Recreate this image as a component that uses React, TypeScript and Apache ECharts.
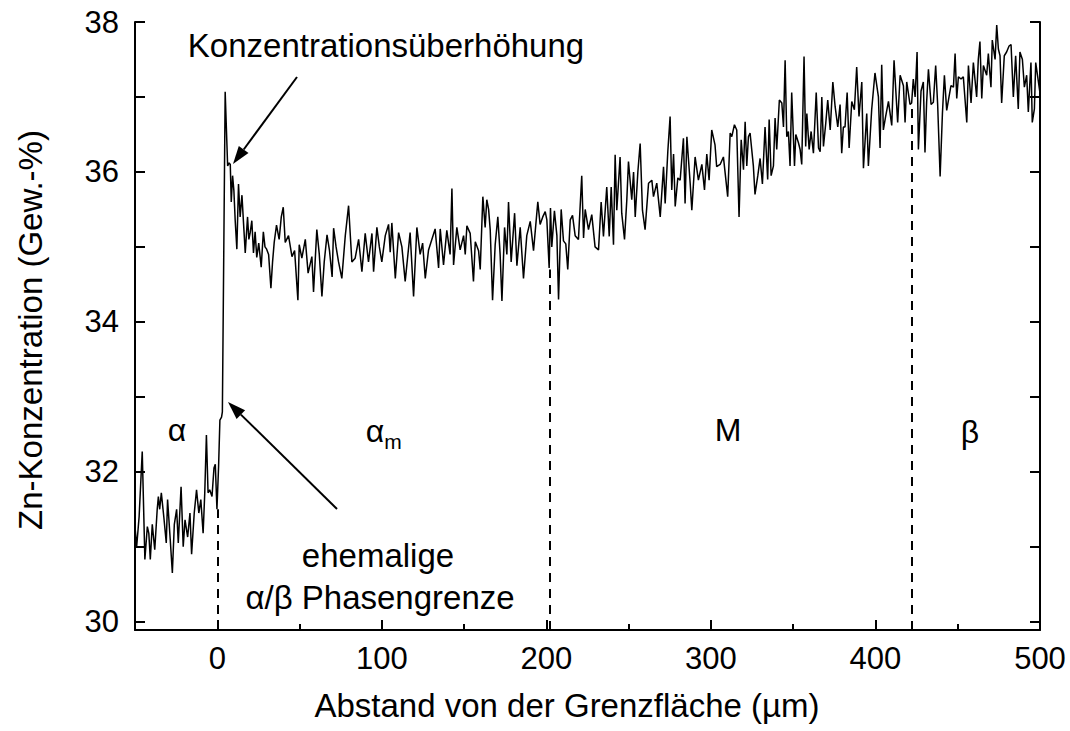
import React, { useEffect, useRef } from "react";
import * as echarts from "echarts";

// Distance from the interface (µm) and Zn concentration (wt.-%)
const distance = [
  -50, -49, -47.5, -45.6, -44, -42.5, -41.6, -40.7, -39.5, -38, -36.5, -35.8, -35, -34, -32.5, -31, -30.2, -28.6, -27.3, -26.1,
  -24.7, -23.7, -22, -20.7, -19.6, -18, -16.6, -15.6, -14, -12.6, -11.2, -10, -8.6, -7.6, -6.6, -5.6, -4.6, -3.2, -2, -1.2,
  -0.2, 0.8, 1.6, 2.6, 3.1, 4.8,
  6.3, 7.2, 7.9, 8.5, 9.3, 10.1, 10.9, 11.9, 12.9, 13.9, 15, 16, 17, 18.4, 19.2, 20, 21, 22, 23, 24,
  25.2, 26.7, 28, 29, 30, 31.2, 32.6, 33.6, 34.6, 36, 37.6, 38.9, 40.1,
  41.3, 43.3, 45.4, 47, 49, 49.8, 51.4, 53.5, 55.2, 57.5, 58.5, 60.5, 62, 63.6, 65, 66.7, 68.2, 69.8, 70.7, 72.2,
  73.7, 75.7, 77.8, 79.8, 81.8, 83.8, 85.9, 87.9, 89.9, 91.9, 94, 95, 97, 98.5, 100, 102.1, 104.1, 105.1, 106.1, 108.2,
  110.2, 112.2, 114.2, 117.2, 119.3, 121.3, 123.3, 124.8, 126.4, 128.4, 130.4,
  132.4, 134.5, 135.5, 137.5, 139.5, 141.5, 142.6, 143.6, 145.6, 147.6, 149.7, 150.7, 151.7, 153.7, 155.7, 156.8, 158.8, 159.8, 161.4, 162.8,
  163.8, 164.9, 165.9, 167.3, 168.9, 170.5, 171.9, 173, 174.6, 176, 177, 178.6, 180.7, 182.1, 184.1, 186.1, 188.1, 190.2, 192.2, 194.8,
  196.2, 197.8, 199.3, 200.3, 201.7, 202.5, 203.3, 204.9, 206.4, 207.4, 209, 210.4, 211.8, 213, 214.5, 215.9, 217.5, 219.5, 221.5, 222.6,
  223.6, 225.6, 227.6, 229.6, 231.7, 233.3, 234.7, 236.7, 238.2, 239.4, 240.8, 241.8, 242.8, 244.8, 245.8, 247.5, 248.9, 249.9, 251.9, 253,
  254, 255.6, 257, 258.4, 260, 262.1, 264.1, 265.1, 267.1, 269.2, 271.2, 272.2, 273.8, 275.2, 276.2, 277.3, 278.3, 279.9, 281.3, 283.3,
  284.3, 285.4, 287.4, 288.4, 290.4, 292.4, 294.5, 296.1, 297.5, 298.9, 300.5, 302.5, 303.5, 305.6, 307.6, 310.2, 311.7, 312.7, 314.3, 315.7,
  317.1, 318.4, 319.8, 320.8, 321.8, 322.8, 323.8, 325.8, 326.8, 328.5, 329.9, 331.3, 332.9, 334.5, 335.4, 336.6, 338, 339, 340, 341.6,
  343.1, 344.1, 345.1, 346.1, 347.1, 348.1, 349.1, 350.8, 351.6, 353.2, 354.2, 355.2, 356.6, 357.6, 358.3, 359.7, 360.9, 362.3, 364, 365.4,
  366.4, 367.4, 368.4, 369.8, 371, 372.5, 374.1, 375.5, 377.1, 378.5, 379.5, 380.5, 381.5, 382.8, 384, 385.6, 387.2, 388.6, 390, 391.7,
  392.7, 394.7, 395.7, 397.7, 399.7, 401.8, 402.8, 403.8, 404.8, 406.2, 407.9, 409.9, 411.3, 413.5, 415, 417, 418, 419, 421, 422,
  423, 424.1, 425.3, 426.1, 427.7, 429.1, 430.1, 431.1, 432.2, 433.8, 435.2, 436.6, 437.8, 439.3, 440.7, 441.9, 443.3, 444.7, 445.9, 447.4,
  448.4, 449.4, 450.4, 452, 453.4, 455.5, 456.5, 458.1, 459.5, 461.5, 462.5, 463.5, 464.6, 465.6, 467.6, 468.6, 470.2, 471, 472.7, 473.7,
  474.7, 475.7, 476.7, 478.3, 479.7, 481.2, 482.4, 483.8, 485.2, 486.8, 487.8, 489.3, 490.5, 491.9, 492.9, 494.5, 495.3, 496.6, 497.4, 498.6,
  500,
];

const zn = [
  31.27, 31.0, 31.4, 32.27, 30.83, 31.27, 31.18, 30.83, 31.3, 30.96, 31.5, 31.67, 31.5, 31.72, 31.4, 31.05, 31.63, 31.1, 30.65, 31.3,
  31.5, 31.05, 31.8, 31.0, 31.36, 31.13, 31.45, 30.9, 31.45, 31.76, 31.45, 31.63, 31.18, 31.72, 32.49, 31.72, 31.76, 31.67, 32.05, 32.1,
  31.5, 32.07, 32.69, 32.73, 32.8, 37.07,
  36.08, 36.12, 36.1, 35.6, 35.95, 35.75, 35.35, 34.97, 35.84, 35.4, 35.69, 35.3, 34.92, 35.4, 35.1, 35.19, 35.35, 34.92, 35.2, 34.86,
  35.05, 34.73, 35.2, 35.0, 34.97, 34.9, 34.45, 34.8, 35.06, 35.29, 35.1, 35.4, 35.53,
  35.06, 35.15, 34.87, 34.95, 34.29, 35.03, 34.85, 35.1, 34.65, 34.87, 34.4, 35.23, 34.9, 34.34, 34.8, 35.16, 34.95, 34.6, 35.25, 35.0,
  34.8, 34.58, 35.15, 35.55, 34.8, 34.85, 35.1, 34.67, 35.18, 34.8, 35.18, 34.67, 35.26, 35.0, 34.8, 35.15, 35.3, 34.93, 35.32, 34.58,
  35.19, 35.0, 34.54, 35.19, 34.34, 35.26, 34.9, 35.05, 34.58, 34.96, 35.1,
  35.24, 34.72, 35.24, 34.76, 35.22, 34.9, 35.78, 34.76, 35.26, 34.96, 35.15, 34.9, 35.28, 35.18, 34.54, 35.07, 34.95, 34.7, 35.67, 35.26,
  35.63, 35.5, 35.22, 34.29, 35.03, 35.4, 34.9, 34.28, 35.26, 34.9, 35.6, 34.8, 35.45, 34.75, 35.26, 34.58, 35.15, 35.34, 34.95, 35.6,
  35.3, 35.4, 35.47, 35.36, 34.72, 35.52, 35.0, 35.48, 35.15, 34.3, 35.5, 35.08, 35.04, 34.7, 35.36, 35.42, 35.15, 35.1, 35.95, 35.12,
  35.5, 35.23, 35.43, 35.0, 34.96, 35.6, 35.14, 35.8, 35.14, 35.8, 35.03, 36.23, 35.49, 36.2, 35.45, 35.1, 35.63, 36.14, 35.63, 36.0,
  35.4, 36.0, 36.38, 35.49, 35.23, 35.85, 35.89, 35.67, 35.85, 35.4, 36.07, 35.58, 36.27, 36.74, 35.76, 36.24, 35.54, 35.92, 35.89, 36.45,
  35.58, 36.47, 35.85, 35.49, 36.2, 35.89, 36.1, 35.76, 36.24, 35.89, 36.56, 36.36, 36.07, 36.1, 36.2, 35.67, 36.52, 36.47, 36.63, 36.56,
  35.4, 36.43, 36.03, 36.67, 36.08, 36.47, 36.52, 36.08, 35.7, 35.95, 36.18, 35.84, 36.6, 35.9, 36.7, 35.95, 36.08, 36.72, 36.3, 36.96,
  36.92, 36.6, 37.49, 36.47, 36.54, 36.08, 37.06, 36.08, 36.5, 36.39, 36.3, 36.1, 37.54, 36.34, 36.78, 36.3, 36.54, 36.25, 37.06, 36.32,
  36.27, 37.0, 36.34, 36.65, 36.96, 36.56, 37.2, 36.87, 36.6, 36.9, 36.25, 36.6, 36.6, 37.06, 36.32, 36.94, 36.83, 37.4, 36.74, 37.2,
  36.05, 36.78, 36.08, 36.83, 37.32, 37.0, 36.32, 37.43, 36.56, 36.74, 36.94, 36.62, 37.49, 36.66, 37.29, 37.15, 36.66, 37.2, 36.9, 36.92,
  37.24, 37.0, 37.6, 36.3, 37.08, 37.2, 36.26, 36.93, 37.37, 36.9, 36.93, 37.42, 36.9, 35.94, 36.78, 37.29, 36.82, 37.0, 37.15, 37.13,
  37.58, 36.98, 37.27, 37.24, 37.27, 36.66, 37.42, 36.92, 37.46, 37.0, 37.5, 37.74, 36.98, 37.42, 37.29, 37.58, 37.13, 37.76, 37.5, 37.96,
  37.64, 37.55, 36.92, 37.55, 37.6, 37.68, 37.7, 37.0, 37.55, 36.84, 37.6, 37.5, 37.13, 37.29, 36.8, 37.46, 36.66, 36.84, 37.46, 37.27,
  37.05,
];

const xMajorTicks = [0, 100, 200, 300, 400, 500];
const xMinorTicks = [50, 150, 250, 350, 450];
const yTicks = [30, 31, 32, 33, 34, 35, 36, 37, 38];
const yTickLabels = [30, 32, 34, 36, 38];

// Former phase boundaries (µm) and the height the dashed marker reaches (wt.-%)
const boundaryX = [0, 202, 422];
const boundaryTop = [31.5, 34.7, 36.9];

const X_MIN = -50;
const X_MAX = 500;
const Y_MIN = 29.89;
const Y_MAX = 38;

const FONT = '"Liberation Sans", Arial, sans-serif';

export default function App() {
  const ref = useRef<HTMLDivElement>(null);

  useEffect(() => {
    if (!ref.current) return;
    const chart = echarts.init(ref.current, null, { renderer: "svg" });

    const data = distance.map((d, i) => [d, zn[i]]);
    const black = "#000";

    const axisCommon = {
      type: "value" as const,
      splitLine: { show: false },
      axisLine: { show: true, onZero: false, lineStyle: { color: black, width: 2 } },
    };

    const txt = (text: string, x: number, y: number, size: number, extra: any = {}) => ({
      type: "text",
      x,
      y,
      silent: true,
      ...extra,
      style: {
        text,
        fill: black,
        fontSize: size,
        fontFamily: FONT,
        textAlign: "center",
        textVerticalAlign: "middle",
        align: "center",
        verticalAlign: "middle",
      },
    });

    const option: any = {
      animation: false,
      backgroundColor: "#fff",
      grid: { left: 135, right: 30, top: 22, bottom: 101, containLabel: false, outerBoundsMode: "none" },
      xAxis: [
        {
          ...axisCommon,
          min: X_MIN,
          max: X_MAX,
          position: "bottom",
          axisTick: { show: true, inside: true, length: 10, customValues: xMajorTicks, lineStyle: { color: black, width: 2 } },
          axisLabel: { customValues: xMajorTicks, color: black, fontSize: 31, fontFamily: FONT, margin: 13 },
        },
        {
          ...axisCommon,
          min: X_MIN,
          max: X_MAX,
          position: "bottom",
          axisLine: { show: false, onZero: false },
          axisTick: { show: true, inside: true, length: 6, customValues: xMinorTicks, lineStyle: { color: black, width: 2 } },
          axisLabel: { show: false },
        },
      ],
      yAxis: [
        {
          ...axisCommon,
          min: Y_MIN,
          max: Y_MAX,
          position: "left",
          axisTick: { show: true, inside: true, length: 10, customValues: yTicks, lineStyle: { color: black, width: 2 } },
          axisLabel: { customValues: yTickLabels, color: black, fontSize: 31, fontFamily: FONT, margin: 16 },
        },
        {
          ...axisCommon,
          min: Y_MIN,
          max: Y_MAX,
          position: "right",
          axisTick: { show: true, inside: true, length: 10, customValues: yTicks, lineStyle: { color: black, width: 2 } },
          axisLabel: { show: false },
        },
      ],
      series: [
        {
          type: "line",
          data,
          xAxisIndex: 0,
          yAxisIndex: 0,
          showSymbol: false,
          symbol: "none",
          lineStyle: { color: black, width: 1.5 },
          z: 3,
          markLine: {
            silent: true,
            symbol: ["none", "none"],
            label: { show: false },
            lineStyle: { color: black, width: 2, type: [9, 7] },
            data: boundaryX.map((bx, i) => [
              { coord: [bx, Y_MIN] },
              { coord: [bx, boundaryTop[i]] },
            ]),
          },
        },
      ],
      graphic: [
        txt("Zn-Konzentration (Gew.-%)", 30, 330, 33, { rotation: Math.PI / 2 }),
        txt("Abstand von der Grenzfläche (µm)", 567, 705, 33),
        txt("Konzentrationsüberhöhung", 386, 45, 33),
        txt("ehemalige", 378, 555, 33),
        txt("α/β Phasengrenze", 380, 597, 33),
        txt("α", 177, 430, 32),
        txt("α", 375, 431, 32),
        txt("m", 393, 441, 21),
        txt("M", 728, 430, 32),
        txt("β", 970, 432, 32),
        // arrow towards the concentration peak
        { type: "line", silent: true, shape: { x1: 297, y1: 77, x2: 243.7, y2: 149.5 }, style: { stroke: black, lineWidth: 2 } },
        { type: "polygon", silent: true, shape: { points: [[233, 164], [248.5, 153.1], [238.8, 145.9]] }, style: { fill: black } },
        // arrow towards the former phase boundary
        { type: "line", silent: true, shape: { x1: 337, y1: 509, x2: 240.9, y2: 414.6 }, style: { stroke: black, lineWidth: 2 } },
        { type: "polygon", silent: true, shape: { points: [[228, 402], [245.1, 410.3], [236.6, 418.9]] }, style: { fill: black } },
      ],
    };

    chart.setOption(option);
    return () => chart.dispose();
  }, []);

  return (
    <div
      ref={ref}
      style={{ position: "absolute", left: 0, top: 0, width: 1070, height: 731, background: "#fff" }}
    />
  );
}
